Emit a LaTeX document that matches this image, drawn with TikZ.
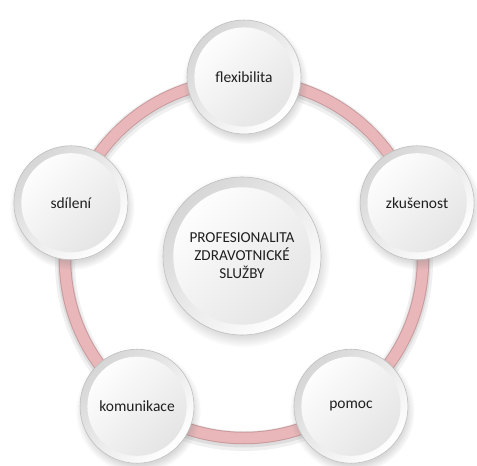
\documentclass[tikz,border=0pt]{standalone}
\usepackage{fontspec}
\setmainfont{Carlito}
\usetikzlibrary{shadows}
\definecolor{ringpink}{HTML}{E9B7B9}
\definecolor{ringedge}{HTML}{C99A9D}
\definecolor{txt}{HTML}{1F1F1F}
\tikzset{bubble/.style = {circle, minimum size = #1*2pt, inner sep = 0,
    draw = gray!50, line width = 0.6pt,
    top color = gray!32, bottom color = white, shading angle = 45,
    circular drop shadow = {shadow xshift = 1pt, shadow yshift = -4pt, opacity = 0.3},
    path picture = {\shade [top color = white, bottom color = gray!22, shading angle = 45]
      (path picture bounding box.center) circle (#1*0.87);},
    text = txt, font = \fontsize{15.5}{18}\selectfont}}
\tikzset{hub/.style = {bubble = #1, align = center, font = \fontsize{15.2}{18}\selectfont}}

\begin{document}
\begin{tikzpicture}[x = 1pt, y = 1pt]
    \useasboundingbox (0,0) rectangle (477,-466);
    \begin{scope}[shift = {(244,-259)}]
    % ring behind the bubbles
    \draw [black, opacity = 0.06, line width = 20] (0,-3) circle (179);
    \draw [black, opacity = 0.08, line width = 15] (0,-2) circle (179);
    \draw [ringedge, line width = 12.5] (0,0) circle (179);
    \draw [ringpink, line width = 10.5] (0,0) circle (179);

    \node [hub = 79] (centre) at (-2,3) {PROFESIONALITA\\ZDRAVOTNICKÉ\\SLUŽBY};

    \node [bubble = 57] (flex) at (90:182) {flexibilita};
    \node [bubble = 57] (zkus) at (18:182) {zkušenost};
    \node [bubble = 57] (pomoc) at (-54:182) {pomoc};
    \node [bubble = 57] (komu) at (-126:182) {komunikace};
    \node [bubble = 57] (sdil) at (162:182) {sdílení};
    \end{scope}
\end{tikzpicture}
\end{document}
